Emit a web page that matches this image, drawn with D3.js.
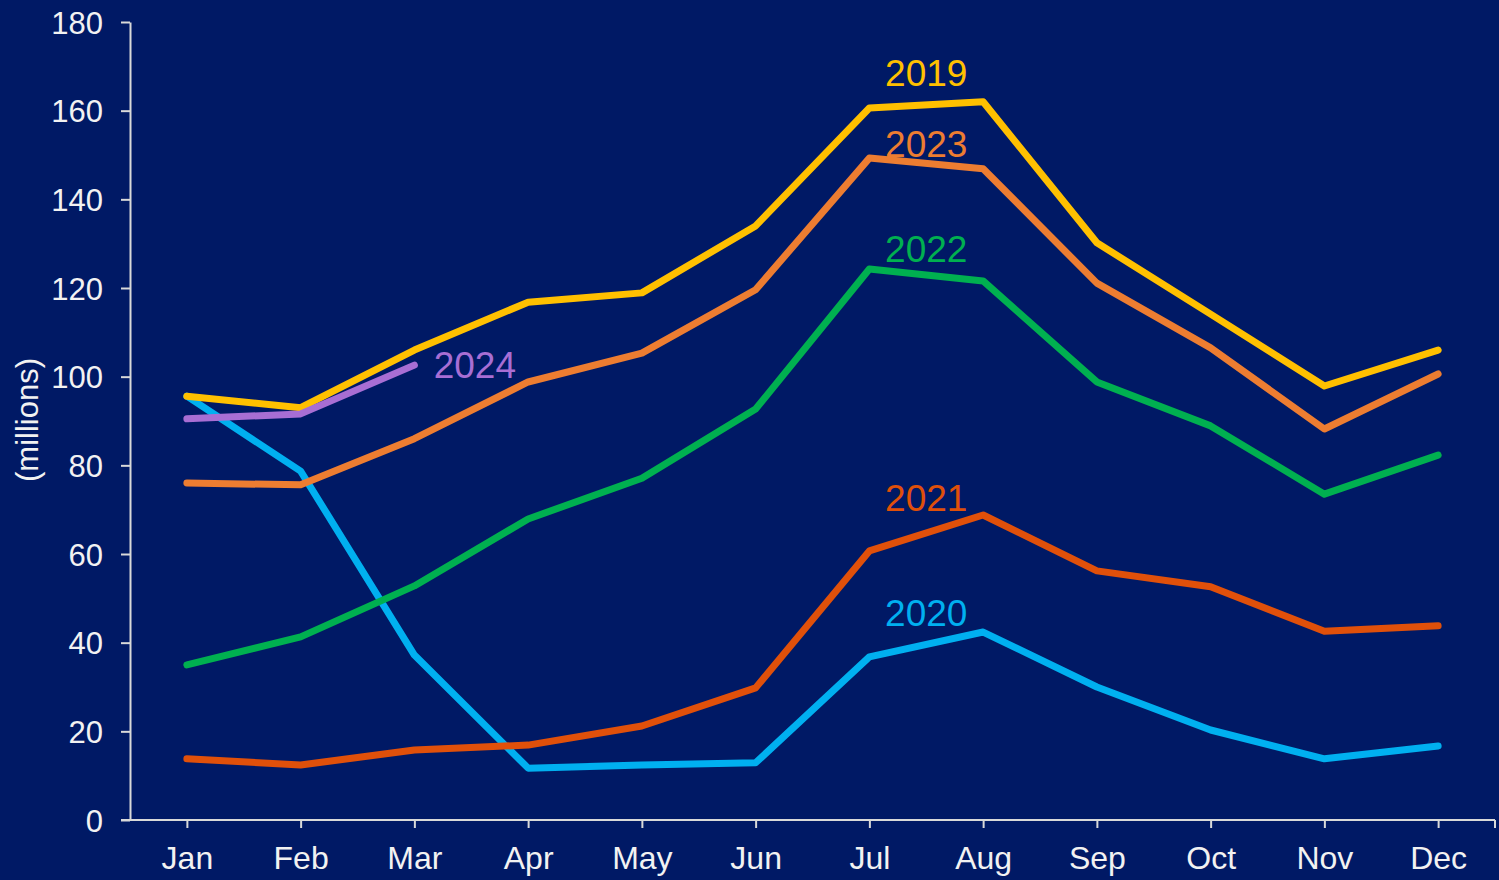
<!DOCTYPE html>
<html>
<head>
<meta charset="utf-8">
<script src="https://cdn.jsdelivr.net/npm/d3@7"></script>
<style>
  html, body { margin: 0; padding: 0; background: #001965; }
  svg { display: block; font-family: "Liberation Sans", Arial, sans-serif; }
  .axis path, .axis line { stroke: #d9d9d9; stroke-width: 2; }
  .axis text { fill: #f2f2f2; font-size: 31px; }
</style>
</head>
<body>
<svg id="main" width="1499" height="880"></svg>
<script>
// chart data
var months = ["Jan", "Feb", "Mar", "Apr", "May", "Jun", "Jul", "Aug", "Sep", "Oct", "Nov", "Dec"];
var yTicks = [0, 20, 40, 60, 80, 100, 120, 140, 160, 180];

var years = ["2020", "2021", "2022", "2019", "2023", "2024"];
var v2019 = [95.6, 93, 106, 116.8, 118.9, 134, 160.6, 162, 130.2, 114.1, 97.9, 106];
var v2020 = [95.6, 78.7, 37.2, 11.7, 12.4, 12.9, 36.8, 42.4, 30, 20.3, 13.8, 16.7];
var v2021 = [13.8, 12.4, 15.8, 16.9, 21.2, 29.8, 60.7, 68.8, 56.2, 52.6, 42.6, 43.8];
var v2022 = [35, 41.3, 52.8, 67.9, 77.1, 92.7, 124.3, 121.6, 98.8, 88.9, 73.5, 82.3];
var v2023 = [76, 75.6, 86, 98.8, 105.3, 119.6, 149.3, 146.9, 121.1, 106.5, 88.2, 100.6];
var v2024 = [90.5, 91.6, 102.6];

var values = { "2019": v2019, "2020": v2020, "2021": v2021, "2022": v2022, "2023": v2023, "2024": v2024 };
var colors = { "2019": "#ffc000", "2020": "#00b0f0", "2021": "#e0500a", "2022": "#00b050", "2023": "#ed7d31", "2024": "#a86ed4" };

// where each year label sits (month index, value)
var labelMonth = { "2019": 6.5, "2020": 6.5, "2021": 6.5, "2022": 6.5, "2023": 6.5, "2024": 2.17 };
var labelValue = { "2019": 165.5, "2020": 43.8, "2021": 69.6, "2022": 125.8, "2023": 149.5, "2024": 99.6 };

var svg = d3.select("#main");

var x = d3.scalePoint().domain(months).range([130, 1495]).padding(0.5);
var y = d3.scaleLinear().domain([0, 180]).range([820, 22]);

var xAt = d3.scaleLinear().domain([0, 11]).range([x("Jan"), x("Dec")]);

// axes
var yAxis = svg.append("g")
  .attr("class", "axis")
  .attr("transform", "translate(130,0)")
  .call(d3.axisLeft(y).tickValues(yTicks).tickSize(9).tickPadding(18).tickSizeOuter(0));
yAxis.selectAll("text").attr("dy", "0.36em");

var xAxis = svg.append("g")
  .attr("class", "axis")
  .attr("transform", "translate(0,820)")
  .call(d3.axisBottom(x).tickSize(8).tickPadding(18).tickSizeOuter(0));
xAxis.select(".domain").attr("d", "M121,0H1495");
xAxis.append("line")
  .attr("x1", 1495).attr("x2", 1495)
  .attr("y1", 0).attr("y2", 8);
xAxis.selectAll("text").attr("dy", "0.71em").style("font-size", "32px");

svg.append("text")
  .attr("transform", "translate(38,420) rotate(-90)")
  .attr("text-anchor", "middle")
  .attr("fill", "#f2f2f2")
  .style("font-size", "31px")
  .text("(millions)");

// lines
var line = d3.line()
  .x(function(d, i) { return x(months[i]); })
  .y(function(d) { return y(d); });

svg.append("g")
  .selectAll("path")
  .data(years)
  .enter()
  .append("path")
  .attr("fill", "none")
  .attr("stroke", function(d) { return colors[d]; })
  .attr("stroke-width", 7)
  .attr("stroke-linecap", "round")
  .attr("stroke-linejoin", "round")
  .attr("d", function(d) { return line(values[d]); });

// year labels
svg.append("g")
  .selectAll("text")
  .data(years)
  .enter()
  .append("text")
  .attr("x", function(d) { return xAt(labelMonth[d]); })
  .attr("y", function(d) { return y(labelValue[d]); })
  .attr("text-anchor", function(d) { return d === "2024" ? "start" : "middle"; })
  .attr("fill", function(d) { return colors[d]; })
  .style("font-size", "37px")
  .text(function(d) { return d; });
</script>
</body>
</html>
